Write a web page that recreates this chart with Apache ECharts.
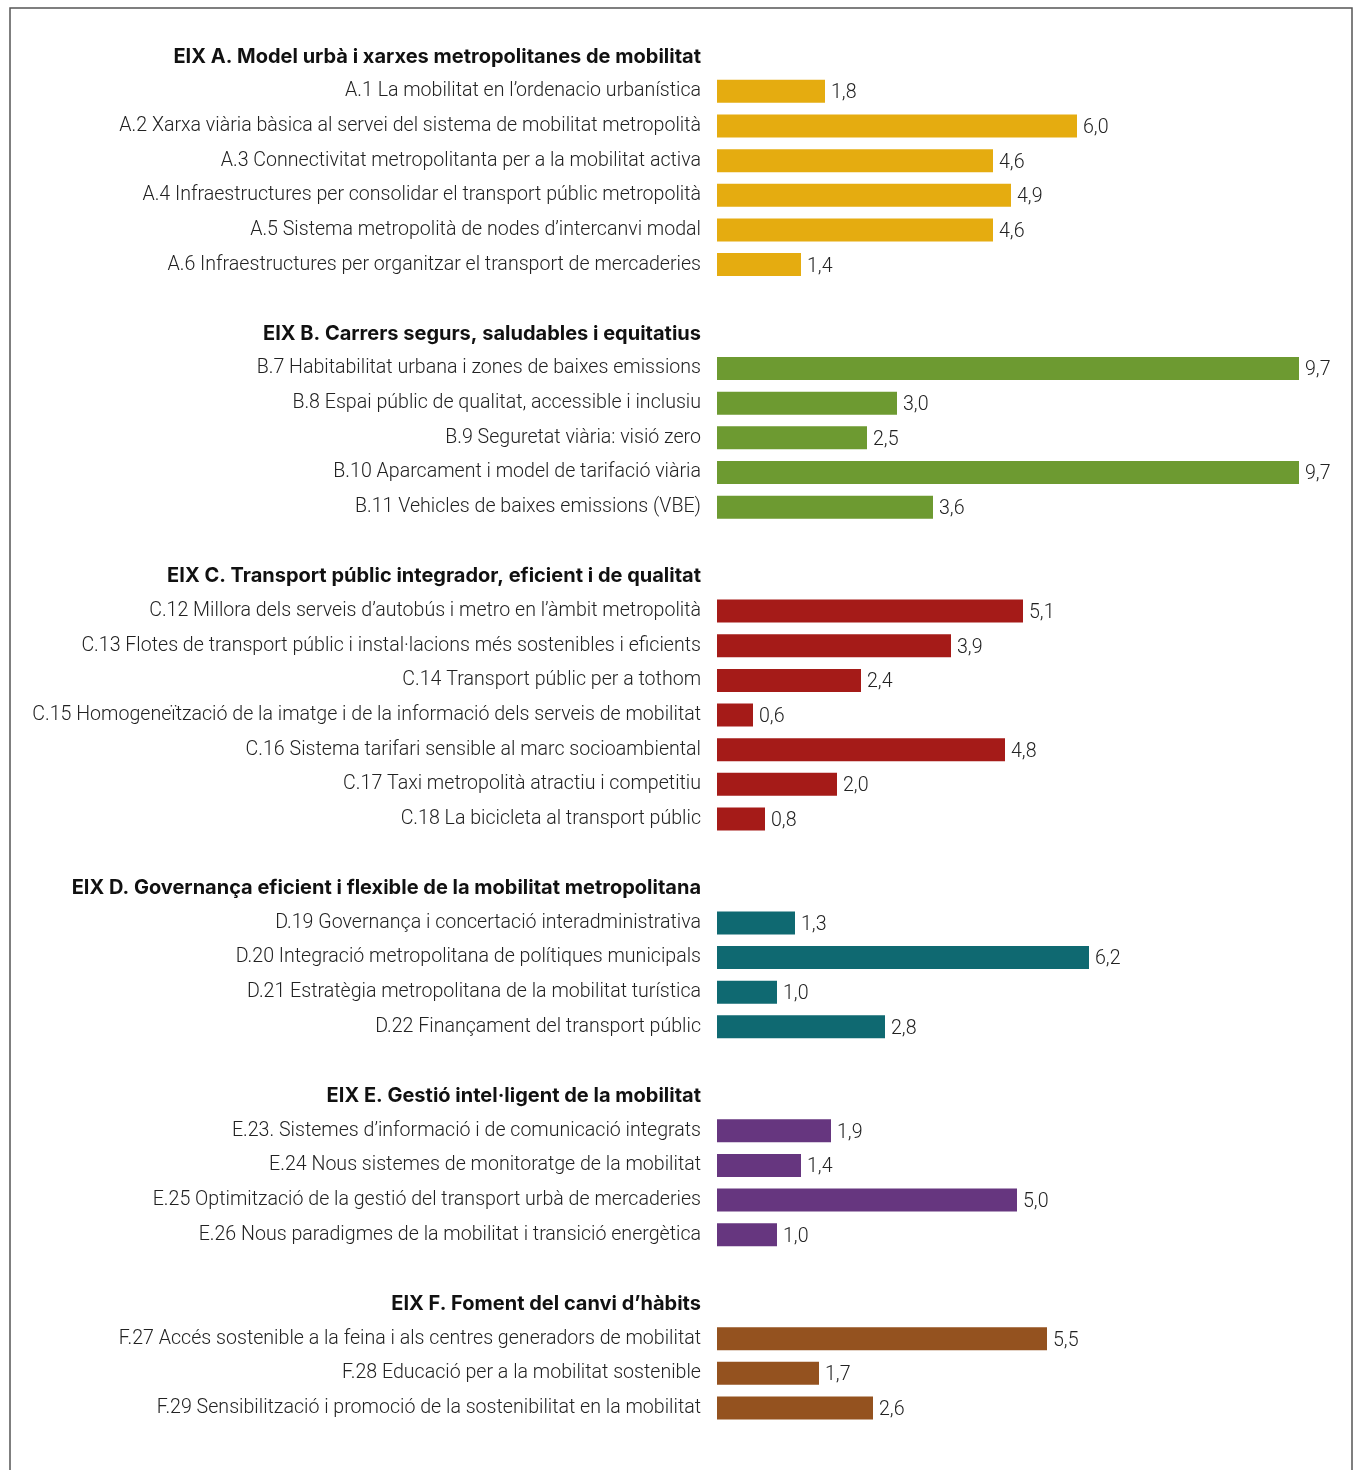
<!DOCTYPE html>
<html>
<head>
<meta charset="utf-8">
<script src="https://cdn.jsdelivr.net/npm/echarts@6/dist/echarts.min.js"></script>
<style>
  html, body { margin: 0; padding: 0; background: #fff; }
  #chart { width: 1357px; height: 1470px; }
</style>
</head>
<body>
<div id="chart"></div>
<script>
// Axis titles (one per group)
const groupTitles = [
  'EIX A. Model urbà i xarxes metropolitanes de mobilitat',
  'EIX B. Carrers segurs, saludables i equitatius',
  'EIX C. Transport públic integrador, eficient i de qualitat',
  'EIX D. Governança eficient i flexible de la mobilitat metropolitana',
  'EIX E. Gestió intel·ligent de la mobilitat',
  'EIX F. Foment del canvi d’hàbits'
];

const itemsA = [
  'A.1 La mobilitat en l’ordenacio urbanística',
  'A.2 Xarxa viària bàsica al servei del sistema de mobilitat metropolità',
  'A.3 Connectivitat metropolitanta per a la mobilitat activa',
  'A.4 Infraestructures per consolidar el transport públic metropolità',
  'A.5 Sistema metropolità de nodes d’intercanvi modal',
  'A.6 Infraestructures per organitzar el transport de mercaderies'
];
const valuesA = [1.8, 6.0, 4.6, 4.9, 4.6, 1.4];

const itemsB = [
  'B.7 Habitabilitat urbana i zones de baixes emissions',
  'B.8 Espai públic de qualitat, accessible i inclusiu',
  'B.9 Seguretat viària: visió zero',
  'B.10 Aparcament i model de tarifació viària',
  'B.11 Vehicles de baixes emissions (VBE)'
];
const valuesB = [9.7, 3.0, 2.5, 9.7, 3.6];

const itemsC = [
  'C.12 Millora dels serveis d’autobús i metro en l’àmbit metropolità',
  'C.13 Flotes de transport públic i instal·lacions més sostenibles i eficients',
  'C.14 Transport públic per a tothom',
  'C.15 Homogeneïtzació de la imatge i de la informació dels serveis de mobilitat',
  'C.16 Sistema tarifari sensible al marc socioambiental',
  'C.17 Taxi metropolità atractiu i competitiu',
  'C.18 La bicicleta al transport públic'
];
const valuesC = [5.1, 3.9, 2.4, 0.6, 4.8, 2.0, 0.8];

const itemsD = [
  'D.19 Governança i concertació interadministrativa',
  'D.20 Integració metropolitana de polítiques municipals',
  'D.21 Estratègia metropolitana de la mobilitat turística',
  'D.22 Finançament del transport públic'
];
const valuesD = [1.3, 6.2, 1.0, 2.8];

const itemsE = [
  'E.23. Sistemes d’informació i de comunicació integrats',
  'E.24 Nous sistemes de monitoratge de la mobilitat',
  'E.25 Optimització de la gestió del transport urbà de mercaderies',
  'E.26 Nous paradigmes de la mobilitat i transició energètica'
];
const valuesE = [1.9, 1.4, 5.0, 1.0];

const itemsF = [
  'F.27 Accés sostenible a la feina i als centres generadors de mobilitat',
  'F.28 Educació per a la mobilitat sostenible',
  'F.29 Sensibilització i promoció de la sostenibilitat en la mobilitat'
];
const valuesF = [5.5, 1.7, 2.6];

const groupColors = ['#E5AC10', '#6D9A31', '#A51B18', '#0F6971', '#66367F', '#94521F'];

const groups = [
  [itemsA, valuesA], [itemsB, valuesB], [itemsC, valuesC],
  [itemsD, valuesD], [itemsE, valuesE], [itemsF, valuesF]
];

// Build one category list: spacer row, group title row, then the items
const categories = [];
const kinds = [];
const barData = [];
groups.forEach(([items, values], g) => {
  if (g > 0) { categories.push(' '); kinds.push('gap'); barData.push('-'); }
  categories.push(groupTitles[g]); kinds.push('head'); barData.push('-');
  items.forEach((name, i) => {
    categories.push(name); kinds.push('item');
    barData.push({ value: values[i], itemStyle: { color: groupColors[g] } });
  });
});

const FONT = 'Roboto, "Noto Sans", sans-serif';
const HEAD_FONT = 'Inter, Roboto, sans-serif';

const chart = echarts.init(document.getElementById('chart'), null, { renderer: 'canvas' });
chart.setOption({
  backgroundColor: '#ffffff',
  animation: false,
  graphic: [{
    type: 'rect',
    shape: { x: 10, y: 8, width: 1342, height: 1520 },
    style: { fill: 'none', stroke: '#555', lineWidth: 1.5 },
    silent: true
  }],
  grid: { left: 717, right: 40, top: 39.4, bottom: 44.7, containLabel: false },
  xAxis: { type: 'value', min: 0, max: 10, show: false },
  yAxis: {
    type: 'category',
    inverse: true,
    data: categories,
    axisLine: { show: false },
    axisTick: { show: false },
    splitLine: { show: false },
    axisLabel: {
      margin: 16,
      interval: 0,
      formatter: (val, idx) => {
        if (kinds[idx] === 'head') return '{h|' + val + '}';
        if (kinds[idx] === 'gap') return '';
        return '{i|' + val + '}';
      },
      rich: {
        h: { fontFamily: HEAD_FONT, fontSize: 20, fontWeight: 'bold', color: '#111' },
        i: { fontFamily: FONT, fontSize: 19.6, fontWeight: 300, color: '#222' }
      }
    }
  },
  series: [{
    type: 'bar',
    data: barData,
    barWidth: 23,
    label: {
      show: true,
      position: 'right',
      distance: 6,
      offset: [0, 2],
      fontFamily: FONT,
      fontSize: 19.6,
      fontWeight: 300,
      color: '#222',
      formatter: p => p.value.toFixed(1).replace('.', ',')
    }
  }]
});
</script>
</body>
</html>
